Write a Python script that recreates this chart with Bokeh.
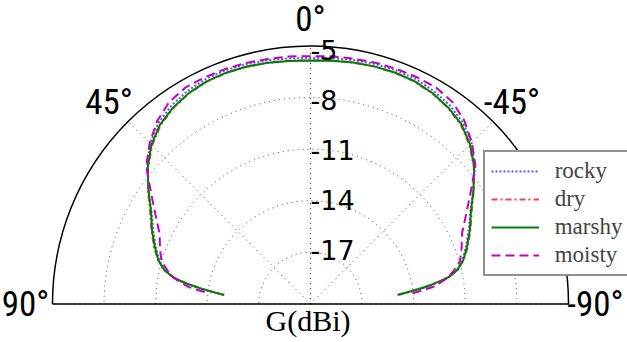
import math
from bokeh.plotting import figure
from bokeh.models import Range1d, Label, Legend, LegendItem, ColumnDataSource
from bokeh.core.properties import value
from bokeh.embed import file_html
from bokeh.resources import INLINE

# ---------------- data (gain in dBi vs angle in degrees) ----------------
ANGLES = [-84, -83, -82, -81, -80, -79, -77, -74, -70, -65, -60, -55, -50, -45, -40, -35, -30, -25, -20, -15, -10, -5,
          0, 5, 10, 15, 20, 25, 30, 35, 40, 45, 50, 55, 60, 65, 70, 74, 77, 79, 80, 81, 82, 83, 84]

rocky = [-14.75, -14.05, -13.3, -12.65, -12.1, -11.65, -11.1, -10.63, -10.2, -9.64, -9.04, -8.18, -7.25, -6.45, -5.9, -5.56, -5.35, -5.22, -5.19, -5.21, -5.26, -5.32,
         -5.35, -5.33, -5.27, -5.22, -5.2, -5.23, -5.36, -5.58, -5.93, -6.5, -7.32, -8.25, -9.1, -9.7, -10.25, -10.68, -11.15, -11.7, -12.15, -12.7, -13.35, -14.1, -14.8]
dry = [-14.85, -14.2, -13.43, -12.78, -12.2, -11.66, -11.06, -10.55, -10.07, -9.52, -8.94, -8.15, -7.33, -6.63, -6.09, -5.75, -5.52, -5.39, -5.35, -5.37, -5.41, -5.46,
       -5.5, -5.47, -5.42, -5.38, -5.36, -5.4, -5.53, -5.77, -6.12, -6.68, -7.4, -8.22, -9.0, -9.58, -10.12, -10.6, -11.12, -11.72, -12.25, -12.85, -13.5, -14.25, -14.9]
marshy = [-14.85, -14.2, -13.45, -12.8, -12.22, -11.68, -11.08, -10.58, -10.12, -9.56, -9.0, -8.18, -7.3, -6.58, -6.04, -5.72, -5.5, -5.37, -5.34, -5.36, -5.41, -5.47,
          -5.51, -5.48, -5.42, -5.37, -5.35, -5.38, -5.51, -5.74, -6.07, -6.62, -7.37, -8.25, -9.07, -9.62, -10.18, -10.62, -11.12, -11.72, -12.28, -12.85, -13.52, -14.26, -14.9]
moisty = [-13.95, -13.28, -12.66, -12.32, -12.0, -11.7, -11.3, -10.78, -10.47, -10.08, -9.33, -8.38, -7.2, -6.42, -5.76, -5.3, -5.1, -5.09, -5.1, -5.13, -5.18, -5.2,
          -5.25, -5.21, -5.2, -5.15, -5.12, -5.11, -5.12, -5.33, -5.8, -6.47, -7.25, -8.43, -9.37, -10.12, -10.51, -10.81, -11.33, -11.73, -12.04, -12.37, -12.71, -13.32, -14.0]

SERIES = ["rocky", "dry", "marshy", "moisty"]
R_TICKS = [-5, -8, -11, -14, -17]
R_TICK_LABELS = ["-5", "-8", "-11", "-14", "-17"]
THETA_TICKS = [0, 45, -45, 90, -90]
THETA_TICK_LABELS = ["0°", "45°", "-45°", "90°", "-90°"]

# ---------------- layout ----------------
W, H = 627, 342
S = 16.69            # px per dB
RMIN = -20.1         # dB at centre
RMAX = -4.64         # dB at outer frame
CX, CY = 310, 303.5  # centre in figure px (from top-left)

p = figure(width=W, height=H, output_backend="svg", toolbar_location=None,
           x_axis_type=None, y_axis_type=None, min_border=0,
           x_range=Range1d(-CX / S, (W - CX) / S), y_range=Range1d(-(H - CY) / S, CY / S))
p.outline_line_color = None
p.background_fill_color = "white"
p.border_fill_color = "white"

def polar(ang, db):
    r = db - RMIN
    t = math.radians(ang)
    return -r * math.sin(t), r * math.cos(t)

OUT = RMAX - RMIN

# radial grid circles
for k in range(1, 5):
    p.arc(x=0, y=0, radius=OUT * k / 5, start_angle=0, end_angle=math.pi,
          line_color="#444444", line_width=1, line_dash="1 4")
# angular grid rays
for a in [90, 45, 0, -45, -90]:
    xe, ye = polar(a, RMAX)
    p.segment(x0=0, y0=0, x1=xe, y1=ye, line_color="#444444", line_width=1, line_dash="1 4")

# frame
p.arc(x=0, y=0, radius=OUT, start_angle=0, end_angle=math.pi, line_color="black", line_width=1.5)
p.segment(x0=-OUT, y0=0, x1=OUT, y1=0, line_color="black", line_width=1.5)

styles = {
    "rocky": dict(line_color="#3a3aff", line_dash="2 2", line_width=2, line_alpha=0.85),
    "dry": dict(line_color="#ff2020", line_dash="6 3 2 3", line_width=2, line_alpha=0.85),
    "marshy": dict(line_color="#008000", line_dash="solid", line_width=2),
    "moisty": dict(line_color="#c400c4", line_dash="9 5", line_width=2),
}
data = {"rocky": rocky, "dry": dry, "marshy": marshy, "moisty": moisty}
items = []
for name in SERIES:
    xs, ys = zip(*[polar(a, d) for a, d in zip(ANGLES, data[name])])
    r = p.line(list(xs), list(ys), **styles[name])
    items.append(LegendItem(label=name, renderers=[r]))

# radial tick labels
src = ColumnDataSource(dict(x=[0.0] * len(R_TICKS), y=[v - RMIN for v in R_TICKS], t=R_TICK_LABELS))
p.text(x="x", y="y", text="t", source=src, text_font=value("DejaVu Sans"), text_font_size="27px",
       text_align="left", text_baseline="middle", text_color="black", y_offset=-2)

# angular tick labels
RL = 285 / S
txs = [-RL * math.sin(math.radians(a)) for a in THETA_TICKS]
tys = [RL * math.cos(math.radians(a)) for a in THETA_TICKS]
src2 = ColumnDataSource(dict(x=txs, y=tys, t=THETA_TICK_LABELS))
p.text(x="x", y="y", text="t", source=src2, text_font=value("Roboto Condensed, Roboto"),
       text_font_size="35px", text_align="center", text_baseline="middle", text_color="black")

p.add_layout(Label(x=307.5, y=22, x_units="screen", y_units="screen", text="G(dBi)",
                   text_font="Liberation Serif", text_font_size="30px", text_align="center",
                   text_baseline="middle", text_color="black"))

leg = Legend(items=items, location=(482.7, 66.3), orientation="vertical",
             label_text_font="Liberation Serif", label_text_font_size="23px",
             glyph_width=48, glyph_height=20, label_height=20, label_width=90, label_standoff=16,
             spacing=2, padding=6, margin=0,
             border_line_color="#222222", border_line_width=2,
             background_fill_color="white", background_fill_alpha=1)
p.add_layout(leg)

open("out.html", "w").write(file_html(p, INLINE))
